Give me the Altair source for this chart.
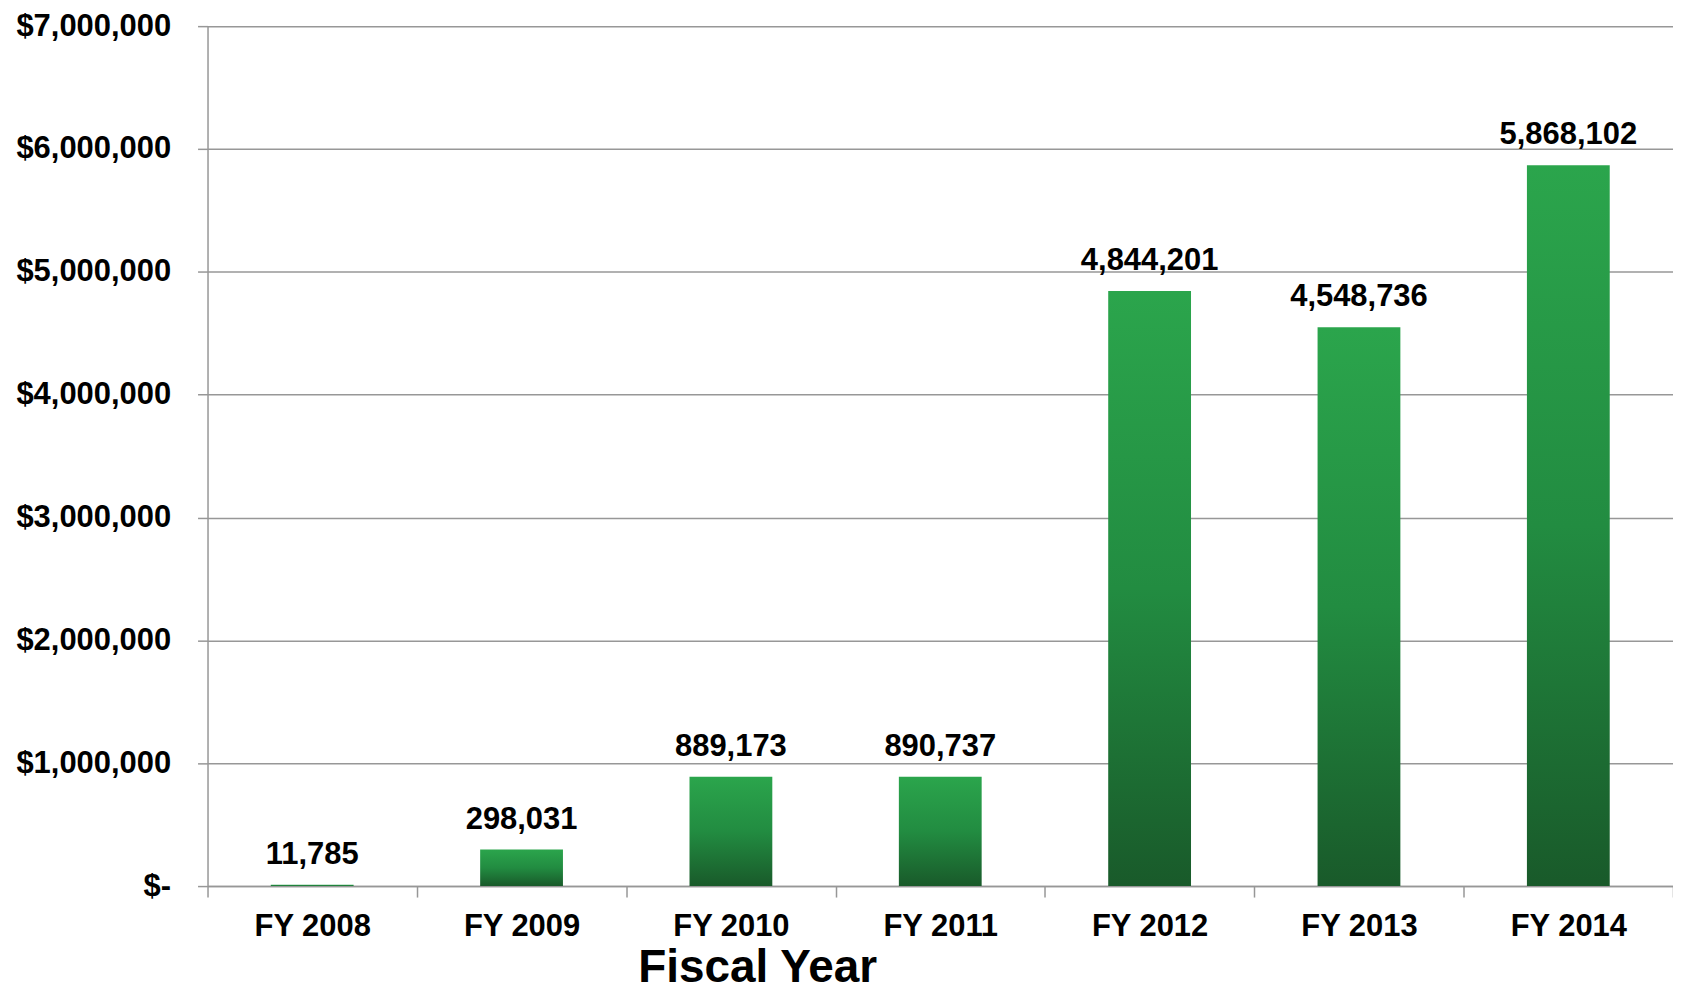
import altair as alt
import pandas as pd

years = ["FY 2008", "FY 2009", "FY 2010", "FY 2011", "FY 2012", "FY 2013", "FY 2014"]
amounts = [11785, 298031, 889173, 890737, 4844201, 4548736, 5868102]

df = pd.DataFrame({"year": years, "amount": amounts})

FONT = "Liberation Sans"
GRID = "#979797"
FS = 31

grad = alt.Gradient(
    gradient="linear",
    stops=[alt.GradientStop(color="#2ba54c", offset=0),
           alt.GradientStop(color="#228c41", offset=0.5),
           alt.GradientStop(color="#195a2a", offset=1)],
    x1=0, x2=0, y1=0, y2=1,
)

x = alt.X("year:N", sort=years,
          scale=alt.Scale(paddingInner=0, paddingOuter=0),
          axis=alt.Axis(title="Fiscal Year", labelAngle=0, tickBand="extent",
                        labelFont=FONT, labelFontSize=FS, labelFontWeight="bold",
                        labelColor="black", labelPadding=15,
                        tickSize=11, tickColor=GRID, tickWidth=1.5,
                        domainColor=GRID, domainWidth=1.5, grid=False,
                        titleFont=FONT, titleFontSize=46, titleFontWeight="bold",
                        titleColor="black", titleX=551, titleY=96,
                        titleAlign="center", titleBaseline="alphabetic"))
y = alt.Y("amount:Q",
          scale=alt.Scale(domain=[0, 7000000], nice=False),
          axis=alt.Axis(title=None, values=[0, 1000000, 2000000, 3000000, 4000000,
                                            5000000, 6000000, 7000000],
                        labelExpr="datum.value == 0 ? '$-' : '$' + format(datum.value, ',')",
                        labelFont=FONT, labelFontSize=FS, labelFontWeight="bold",
                        labelColor="black", labelPadding=27,
                        tickSize=10, tickColor=GRID, tickWidth=1.5,
                        domainColor=GRID, domainWidth=1.5,
                        grid=True, gridColor=GRID, gridWidth=1.5))

bars = alt.Chart(df).mark_bar(color=grad, width=83).encode(x=x, y=y)

labels = alt.Chart(df).mark_text(
    font=FONT, fontSize=FS, fontWeight="bold", color="black",
    baseline="alphabetic", dy=-21, align="center"
).encode(x=alt.X("year:N", sort=years), y="amount:Q",
         text=alt.Text("amount:Q", format=","))

chart = (bars + labels).properties(
    width=1469, height=862,
    autosize="none",
    padding={"left": 200, "top": 17, "right": 0, "bottom": 106},
).configure_view(stroke=None)

chart.save("out.html", embed_options={"renderer": "svg", "actions": False})
